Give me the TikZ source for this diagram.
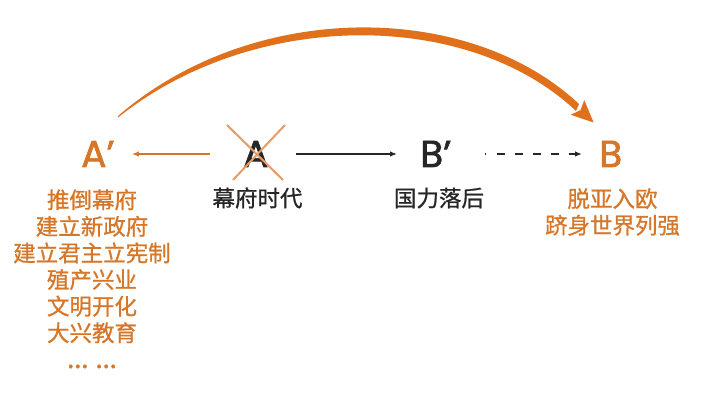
\documentclass[tikz,border=0pt]{standalone}
\usepackage{fontspec}
\setmainfont[FakeBold=0.8]{Noto Sans CJK SC}
\newfontfamily\letterfont[FakeBold=1.7]{Poppins}
\newfontfamily\latinfont[FakeBold=1]{Noto Sans}
\usetikzlibrary{arrows.meta}
\definecolor{ora}{RGB}{214,118,40}
\definecolor{arcora}{RGB}{224,112,28}
\definecolor{xora}{RGB}{228,156,104}
\definecolor{dark}{RGB}{38,38,38}
\begin{document}
\begin{tikzpicture}[x=1pt,y=-1pt,
  letter/.style={inner sep=0pt, font=\letterfont\fontsize{37.5}{40}\selectfont, text height=26pt, text depth=0pt, anchor=base west},
  lbl/.style={inner sep=0pt, font=\fontsize{22.5}{26.6}\selectfont, align=center},
  smallhead/.style={-{Latex[length=7pt,width=5.5pt]}},
]
\useasboundingbox[fill=white] (0,0) rectangle (720,411);
% letters
\node[letter, text=ora] (Ap) at (81,167) {A’};
\node[letter, text=dark] (A) at (243,167) {A};
\node[letter, text=dark] (Bp) at (420,167) {B’};
\node[letter, text=ora] (B) at (599,167) {B};
% cross over A
\draw[xora, line width=2pt] (227,125) -- (283,180);
\draw[xora, line width=2pt] (285,125) -- (233,180);
% labels
\node[lbl, text=ora, anchor=north] (Alist) at (92,189) {推倒幕府\\建立新政府\\建立君主立宪制\\殖产兴业\\文明开化\\大兴教育\\{\latinfont\fontsize{27}{26.6}\selectfont … …}};
\node[lbl, text=dark] (Alab) at (257.5,198) {幕府时代};
\node[lbl, text=dark] (Bplab) at (439,198) {国力落后};
\node[lbl, text=ora, anchor=north] (Blab) at (612.5,188) {脱亚入欧\\跻身世界列强};
% arrows
\draw[ora, line width=1.5pt, smallhead, shorten <=33pt, shorten >=17pt] (A.west) -- (Ap.east);
\draw[dark, line width=1.3pt, smallhead, shorten <=27pt, shorten >=23pt] (A.east) -- (Bp.west);
\draw[dark, line width=1.3pt, smallhead, dash pattern=on 1.5pt off 10.5pt on 8pt off 10pt on 8pt off 10pt on 8pt off 10pt on 8pt off 10pt on 12pt, shorten <=33pt, shorten >=17pt] (Bp.east) -- (B.west);
% big tapered arc
\fill[arcora] (118,116) .. controls (252,0) and (468,0) .. (579,104)
  -- (576,111) .. controls (468,9) and (254,9) .. (118,117.5) -- cycle;
\fill[arcora] (593.6,122.5) -- (584.3,100.2) -- (580.4,110.2) -- (570.7,114.8) -- cycle;
\end{tikzpicture}
\end{document}
